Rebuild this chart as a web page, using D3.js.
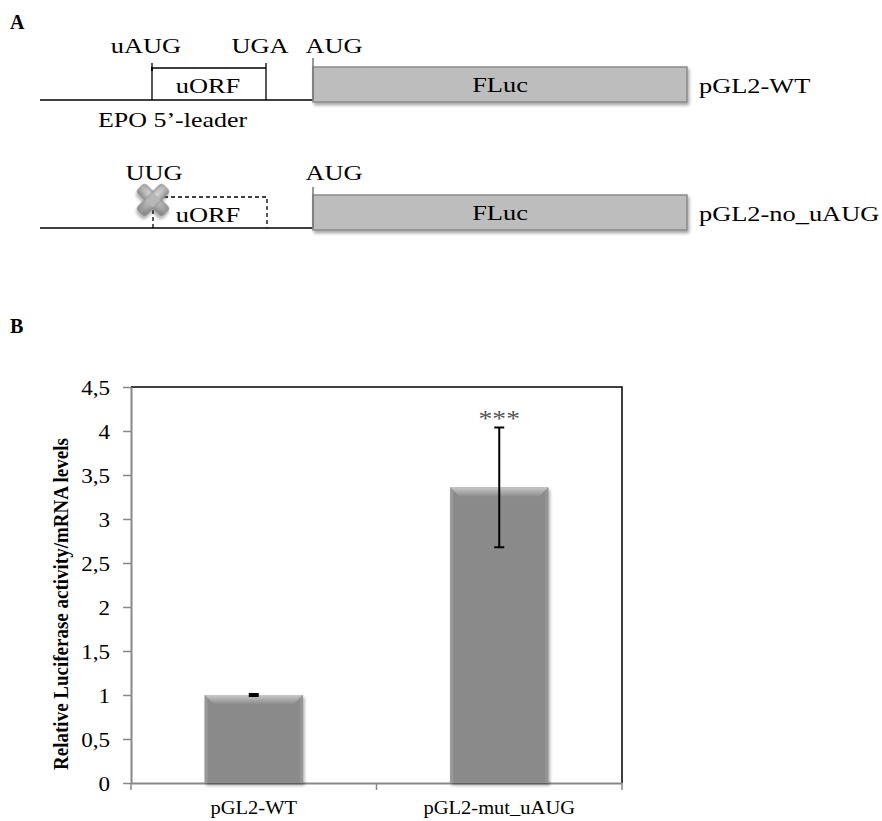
<!DOCTYPE html>
<html>
<head>
<meta charset="utf-8">
<script src="https://cdn.jsdelivr.net/npm/d3@7"></script>
<style>
  body { margin: 0; background: #fff; }
  svg { display: block; font-family: "Liberation Serif", "Times New Roman", serif; }
</style>
</head>
<body>
<svg id="fig" width="882" height="821"></svg>
<script>
'use strict';

// panel B data
var categories = ["pGL2-WT", "pGL2-mut_uAUG"];
var values = [1.0, 3.36];
var errors = [0.01, 0.68];
var significance = ["", "***"];
var yTicks = [0, 0.5, 1, 1.5, 2, 2.5, 3, 3.5, 4, 4.5];
var yTitle = "Relative Luciferase activity/mRNA levels";

// panel A labels
var constructs = ["pGL2-WT", "pGL2-no_uAUG"];
var startCodons = ["uAUG", "UUG"];

var SX = 1.2; // the figure text is a bit wider than plain Times

var svg = d3.select("#fig");
var defs = svg.append("defs");

var shadow = defs.append("filter").attr("id", "shadow")
    .attr("x", "-20%").attr("y", "-20%").attr("width", "140%").attr("height", "150%");
shadow.append("feDropShadow")
    .attr("dx", 1.5).attr("dy", 2.5).attr("stdDeviation", 1.8)
    .attr("flood-color", "#000").attr("flood-opacity", 0.35);

var bevel = defs.append("linearGradient").attr("id", "bevel")
    .attr("x1", 0).attr("y1", 0).attr("x2", 0).attr("y2", 1);
bevel.append("stop").attr("offset", "0%").attr("stop-color", "#c8c8c8");
bevel.append("stop").attr("offset", "100%").attr("stop-color", "#8e8e8e");

var xGrad = defs.append("radialGradient").attr("id", "xgrad")
    .attr("cx", "40%").attr("cy", "35%").attr("r", "70%");
xGrad.append("stop").attr("offset", "0%").attr("stop-color", "#dadada");
xGrad.append("stop").attr("offset", "100%").attr("stop-color", "#8a8a8a");

function label(g, x, y, s, opts) {
    opts = opts || {};
    return g.append("text")
        .attr("transform", "translate(" + x + "," + y + ") scale(" + (opts.sx || SX) + ",1)")
        .attr("text-anchor", opts.anchor || "middle")
        .style("font-family", "'Liberation Serif', serif")
        .style("font-size", (opts.size || 22) + "px")
        .style("font-weight", opts.bold ? "bold" : "normal")
        .attr("fill", opts.fill || "#000")
        .text(s);
}

// ---------- panel A ----------
label(svg, 10, 29, "A", {anchor: "start", size: 20, bold: true, sx: 1});
label(svg, 10, 333, "B", {anchor: "start", size: 20, bold: true, sx: 1});

var rowY = [100, 228];

rowY.forEach(function(y, i) {
    var g = svg.append("g");

    g.append("line")
        .attr("x1", 40).attr("x2", 313).attr("y1", y).attr("y2", y)
        .attr("stroke", "#000").attr("stroke-width", 1.5);

    // uORF box (open at the bottom)
    if (i === 0) {
        g.append("path")
            .attr("d", "M152," + y + "V" + (y - 37) + "M152," + (y - 32) + "H266M266," + (y - 37) + "V" + y)
            .attr("fill", "none").attr("stroke", "#000").attr("stroke-width", 1.3);
        g.append("line").attr("x1", 152).attr("x2", 152).attr("y1", y - 33).attr("y2", y - 29)
            .attr("stroke", "#000").attr("stroke-width", 2);
    } else {
        g.append("path")
            .attr("d", "M153," + y + "V" + (y - 31) + "H267V" + y)
            .attr("fill", "none").attr("stroke", "#000").attr("stroke-width", 1.3)
            .attr("stroke-dasharray", "4,3");
    }

    // FLuc box
    g.append("rect")
        .attr("x", 313).attr("y", y - 33).attr("width", 374).attr("height", 35)
        .attr("fill", "#bdbdbd").attr("stroke", "#8a8a8a").attr("stroke-width", 1.5)
        .attr("filter", "url(#shadow)");

    g.append("line")
        .attr("x1", 313).attr("x2", 313).attr("y1", y - (i === 0 ? 42 : 41)).attr("y2", y)
        .attr("stroke", "#777").attr("stroke-width", 1.5);

    label(g, i === 0 ? 146 : 154, y - (i === 0 ? 47 : 48), startCodons[i]);
    if (i === 0) label(g, 260, y - 47, "UGA");
    label(g, 334, y - (i === 0 ? 47 : 48), "AUG");
    label(g, 208, y - (i === 0 ? 7 : 6), "uORF");
    label(g, 500, y - 8, "FLuc");
    label(g, 699, y - 7, constructs[i], {anchor: "start"});
    if (i === 0) label(g, 98, y + 27, "EPO 5\u2019-leader", {anchor: "start", sx: 1.18});

    // crossed-out start codon
    if (i === 1) {
        var xm = g.append("g")
            .attr("transform", "translate(153," + (y - 28) + ") rotate(45)")
            .attr("filter", "url(#shadow)");
        xm.append("rect").attr("x", -18).attr("y", -6).attr("width", 36).attr("height", 12)
            .attr("rx", 3).attr("fill", "url(#xgrad)").attr("stroke", "#8a8a8a").attr("stroke-width", 0.8);
        xm.append("rect").attr("x", -6).attr("y", -18).attr("width", 12).attr("height", 36)
            .attr("rx", 3).attr("fill", "url(#xgrad)").attr("stroke", "#8a8a8a").attr("stroke-width", 0.8);
        xm.append("rect").attr("x", -5.5).attr("y", -5.5).attr("width", 11).attr("height", 11)
            .attr("fill", "#b6b6b6");
    }
});

// ---------- panel B ----------
var plot = {left: 131, right: 622, top: 387, bottom: 783};

var x = d3.scaleBand()
    .domain(categories)
    .range([plot.left, plot.right])
    .paddingInner(0.6)
    .paddingOuter(0.3);

var y = d3.scaleLinear()
    .domain([0, 4.5])
    .range([plot.bottom, plot.top]);

var chart = svg.append("g");

// frame: top and right are black, axes grey
chart.append("path")
    .attr("d", "M" + plot.left + "," + plot.top + "H" + plot.right + "V" + plot.bottom)
    .attr("fill", "none").attr("stroke", "#000").attr("stroke-width", 1.5);

var yAxis = chart.append("g")
    .attr("transform", "translate(" + plot.left + ",0)")
    .call(d3.axisLeft(y).tickValues(yTicks).tickSize(8).tickSizeOuter(0)
        .tickFormat(function(d) { return String(d).replace(".", ","); }));
yAxis.select(".domain").attr("stroke", "#888").attr("stroke-width", 2);
yAxis.selectAll(".tick line").attr("stroke", "#888").attr("stroke-width", 1.5);
yAxis.selectAll(".tick text")
    .attr("x", null).attr("dy", null)
    .attr("transform", "translate(-21,7) scale(1.1,1)")
    .style("font-family", "'Liberation Serif', serif")
    .style("font-size", "21px").attr("fill", "#000");

var xAxis = chart.append("g")
    .attr("transform", "translate(0," + plot.bottom + ")")
    .call(d3.axisBottom(x).tickSize(0).tickFormat(""));
xAxis.select(".domain").attr("stroke", "#888").attr("stroke-width", 2);
xAxis.selectAll(".tick").remove();
// category boundaries
var bounds = [plot.left].concat(categories.map(function(c) { return x(c) + x.bandwidth() + x.step() * 0.3; }));
xAxis.selectAll(".bound")
    .data(bounds)
    .enter().append("line")
    .attr("x1", function(d) { return d; }).attr("x2", function(d) { return d; })
    .attr("y1", 0).attr("y2", 7)
    .attr("stroke", "#888").attr("stroke-width", 1.5);

categories.forEach(function(c) {
    label(chart, x(c) + x.bandwidth() / 2, plot.bottom + 31, c, {size: 19, sx: 1.08});
});

var bars = chart.selectAll(".bar")
    .data(categories.map(function(c, i) { return {cat: c, v: values[i], e: errors[i], s: significance[i]}; }))
    .enter().append("g")
    .attr("class", "bar");

bars.append("rect")
    .attr("x", function(d) { return x(d.cat); })
    .attr("y", function(d) { return y(d.v); })
    .attr("width", x.bandwidth())
    .attr("height", function(d) { return y(0) - y(d.v); })
    .attr("fill", "#8a8a8a")
    .attr("filter", "url(#shadow)");

// bevel on top edge and thin side highlights
bars.append("path")
    .attr("d", function(d) {
        var x0 = x(d.cat), x1 = x0 + x.bandwidth(), t = y(d.v), b = 9;
        return "M" + x0 + "," + t + "H" + x1 + "L" + (x1 - b) + "," + (t + b) + "H" + (x0 + b) + "Z";
    })
    .attr("fill", "url(#bevel)");
bars.append("path")
    .attr("d", function(d) {
        var x0 = x(d.cat), t = y(d.v), b = 3;
        return "M" + x0 + "," + t + "L" + (x0 + b) + "," + (t + b) + "V" + y(0) + "H" + x0 + "Z";
    })
    .attr("fill", "#a0a0a0").attr("opacity", 0.7);
bars.append("path")
    .attr("d", function(d) {
        var x1 = x(d.cat) + x.bandwidth(), t = y(d.v), b = 3;
        return "M" + x1 + "," + t + "L" + (x1 - b) + "," + (t + b) + "V" + y(0) + "H" + x1 + "Z";
    })
    .attr("fill", "#9a9a9a").attr("opacity", 0.7);

// error bars
bars.append("path")
    .attr("d", function(d) {
        var cx = x(d.cat) + x.bandwidth() / 2, hi = y(d.v + d.e), lo = y(d.v - d.e), w = 5;
        return "M" + (cx - w) + "," + hi + "H" + (cx + w) +
            "M" + cx + "," + hi + "V" + lo +
            "M" + (cx - w) + "," + lo + "H" + (cx + w);
    })
    .attr("fill", "none").attr("stroke", "#000").attr("stroke-width", 2);

bars.each(function(d) {
    if (!d.s) return;
    label(d3.select(this), x(d.cat) + x.bandwidth() / 2, y(d.v + d.e) - 1, d.s, {size: 24, sx: 1.15, fill: "#555"});
});

// y title
chart.append("text")
    .attr("transform", "translate(68,604) rotate(-90) scale(1,1.15)")
    .attr("text-anchor", "middle")
    .style("font-family", "'Liberation Serif', serif")
    .style("font-size", "19px")
    .style("font-weight", "bold")
    .text(yTitle);
</script>
</body>
</html>
